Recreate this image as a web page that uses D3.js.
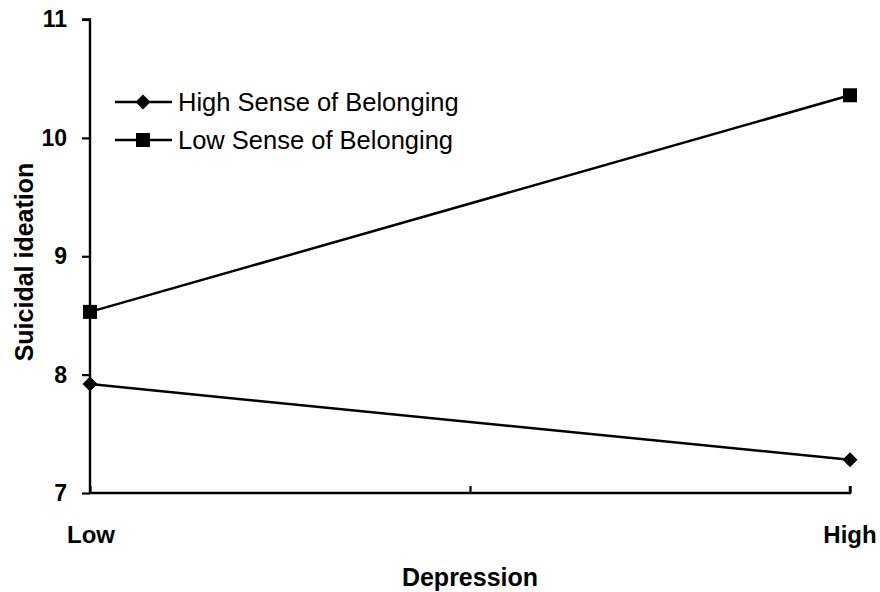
<!DOCTYPE html>
<html><head><meta charset="utf-8">
<script src="https://cdn.jsdelivr.net/npm/d3@7"></script>
<style>body{margin:0;background:#fff}svg{display:block}text{font-family:"Liberation Sans",Arial,sans-serif;fill:#000}</style>
</head><body><svg id="c" width="880" height="592"></svg>
<script>
const categories = ["Low", "High"];
const seriesNames = ["High Sense of Belonging", "Low Sense of Belonging"];
const highBelonging = [7.92, 7.28];
const lowBelonging = [8.53, 10.36];
const yTicks = [7, 8, 9, 10, 11];
const xTitle = "Depression";
const yTitle = "Suicidal ideation";

const svg = d3.select("#c");
const x0 = 90, x1 = 850, yTop = 19.5, yBot = 493;
const x = d3.scaleLinear().domain([0, categories.length - 1]).range([x0, x1]);
const y = d3.scaleLinear().domain([7, 11]).range([yBot, yTop]);

// Y axis
const yAxis = d3.axisLeft(y).tickValues(yTicks).tickSize(8).tickPadding(15).tickFormat(d3.format("d"));
const gy = svg.append("g").attr("transform", `translate(${x0},0)`).call(yAxis);
gy.select(".domain").attr("stroke", "#000").attr("stroke-width", 2.4).attr("d", `M-8,${yTop}H0V${yBot}`);
gy.selectAll(".tick line").attr("stroke-width", 2.2);
gy.selectAll(".tick text").style("font-size", "23px").style("font-weight", "bold").attr("font-family", "Liberation Sans, Arial, sans-serif");

// X axis with ticks going up
const xAxis = d3.axisBottom(x).tickValues([0, 0.5, 1]).tickSize(-7).tickFormat(() => "");
const gx = svg.append("g").attr("transform", `translate(0,${yBot})`).call(xAxis);
gx.select(".domain").attr("stroke-width", 2.4).attr("d", `M${x0},0H${x1}V-7`);
gx.selectAll(".tick line").attr("stroke-width", 2.2);

// category labels
svg.selectAll(".cat").data(categories).enter().append("text")
  .attr("x", (d, i) => x(i) + (i === 0 ? 1 : 0)).attr("y", 543)
  .attr("text-anchor", "middle").style("font-size", "24px").style("font-weight", "bold").text(d => d);

// titles
svg.append("text").attr("x", 470).attr("y", 586).attr("text-anchor", "middle")
  .style("font-size", "25px").style("font-weight", "bold").text(xTitle);
svg.append("text").attr("transform", "translate(33,262) rotate(-90)").attr("text-anchor", "middle")
  .style("font-size", "25px").style("font-weight", "bold").text(yTitle);

const line = d3.line().x((d, i) => x(i)).y(d => y(d));
const series = [highBelonging, lowBelonging];
const diamond = s => `M0,${-s}L${s},0L0,${s}L${-s},0Z`;
const square = s => `M${-s},${-s}H${s}V${s}H${-s}Z`;
const shapes = [diamond(7.5), square(7)];

series.forEach((vals, k) => {
  svg.append("path").datum(vals).attr("d", line).attr("fill", "none").attr("stroke", "#000").attr("stroke-width", 2.5);
  svg.selectAll(".m" + k).data(vals).enter().append("path")
    .attr("transform", (d, i) => `translate(${x(i)},${y(d)})`).attr("d", shapes[k]).attr("fill", "#000");
});

// legend
const legY = [102, 140];
seriesNames.forEach((n, k) => {
  const g = svg.append("g").attr("transform", `translate(0,${legY[k]})`);
  g.append("line").attr("x1", 115).attr("x2", 172).attr("stroke", "#000").attr("stroke-width", 2.5);
  g.append("path").attr("transform", "translate(143,0)").attr("d", shapes[k]).attr("fill", "#000");
  g.append("text").attr("x", 178).attr("y", 9).style("font-size", "25.5px").text(n);
});
</script></body></html>
